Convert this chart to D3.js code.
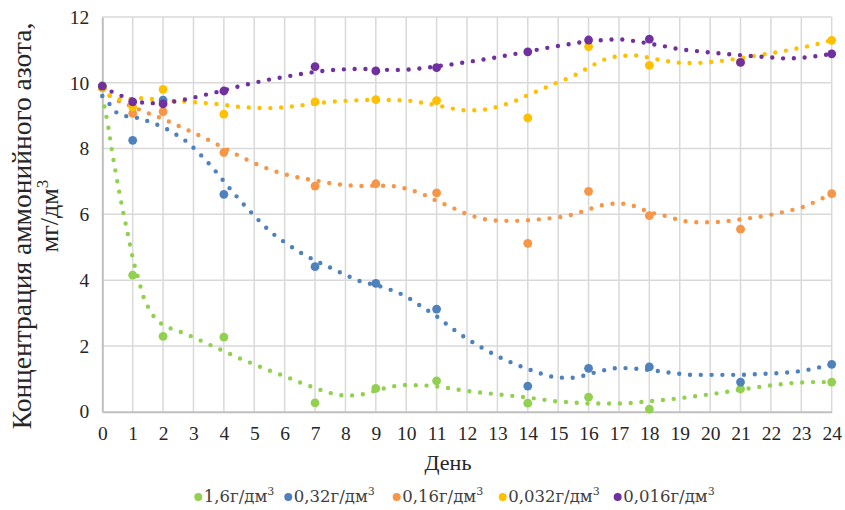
<!DOCTYPE html>
<html>
<head>
<meta charset="utf-8">
<script src="https://cdn.jsdelivr.net/npm/d3@7/dist/d3.min.js"></script>
<style>
  html, body { margin: 0; padding: 0; background: #ffffff; }
  svg { display: block; }
</style>
</head>
<body>
<svg id="chart" width="845" height="510"></svg>
<script>
// Sampling days
const days = [0, 1, 2, 4, 7, 9, 11, 14, 16, 18, 21, 24];

// Measured ammonium nitrogen, mg/dm3, one array per dose
const dose16   = [9.91, 4.15, 2.29, 2.27, 0.27, 0.71, 0.94, 0.26, 0.44, 0.08, 0.69, 0.90];
const dose032  = [9.85, 8.25, 9.47, 6.61, 4.41, 3.90, 3.12, 0.78, 1.32, 1.36, 0.90, 1.44];
const dose016  = [9.85, 9.07, 9.12, 7.88, 6.86, 6.93, 6.65, 5.12, 6.70, 5.96, 5.55, 6.63];
const dose0032 = [9.85, 9.27, 9.80, 9.05, 9.42, 9.49, 9.46, 8.93, 11.10, 10.53, 10.63, 11.29];
const dose0016 = [9.90, 9.42, 9.36, 9.75, 10.49, 10.36, 10.46, 10.94, 11.30, 11.33, 10.62, 10.88];

// Trend curves [day, value]
const trend16 = [[0,9.6],[0.2,8.63],[0.31,7.98],[0.43,7.33],[0.56,6.67],[0.7,6.01],[0.85,5.36],[1,4.68],[1.18,4.06],[1.38,3.43],[1.54,3.13],[1.73,2.85],[2,2.64],[2.34,2.5],[2.68,2.39],[3,2.26],[3.5,2.05],[4,1.84],[4.5,1.63],[5,1.44],[5.5,1.25],[6,1.08],[6.5,0.89],[7,0.72],[7.5,0.57],[8,0.49],[8.5,0.52],[9,0.64],[9.5,0.76],[10,0.81],[10.5,0.8],[11,0.77],[11.5,0.7],[12,0.63],[13,0.53],[14,0.43],[15,0.31],[15.5,0.28],[16,0.25],[17,0.25],[18,0.32],[19,0.41],[20,0.53],[21,0.67],[22,0.8],[23,0.89],[23.5,0.9],[24,0.9]];
const trend032 = [[0,9.6],[0.29,9.3],[0.53,9.05],[0.88,8.97],[1.22,8.92],[1.57,8.81],[1.9,8.69],[2.23,8.54],[2.52,8.37],[2.82,8.18],[3.08,7.95],[3.34,7.71],[3.58,7.47],[3.81,7.22],[4.04,6.96],[4.5,6.46],[5,5.96],[5.5,5.5],[6,5.15],[6.5,4.85],[7,4.6],[7.5,4.38],[8,4.16],[8.5,3.96],[9,3.85],[9.5,3.7],[10,3.5],[10.5,3.2],[11,2.9],[11.5,2.54],[12,2.22],[12.5,1.94],[13,1.69],[13.5,1.48],[14,1.3],[14.5,1.14],[15,1.04],[15.5,1.03],[16,1.14],[16.5,1.26],[17,1.33],[17.5,1.31],[18,1.27],[18.5,1.21],[19,1.15],[19.5,1.12],[20.5,1.12],[21,1.12],[21.5,1.14],[22,1.16],[22.5,1.19],[23,1.24],[23.5,1.33],[24,1.44]];
const trend016 = [[0,9.85],[0.25,9.6],[0.53,9.45],[1,9.27],[1.5,9.08],[2,8.9],[2.5,8.69],[3,8.48],[3.5,8.26],[4,8.02],[4.5,7.78],[5,7.56],[5.5,7.37],[6,7.22],[6.5,7.11],[7,7.03],[7.5,6.95],[8,6.89],[8.5,6.86],[9,6.87],[9.5,6.86],[10,6.78],[10.5,6.63],[11,6.41],[11.5,6.21],[12,6.01],[12.5,5.87],[13,5.81],[13.5,5.8],[14,5.82],[14.5,5.86],[15,5.91],[15.5,6.0],[16,6.15],[16.5,6.29],[17,6.33],[17.5,6.25],[18,6.07],[18.5,5.96],[19,5.83],[19.5,5.76],[20,5.76],[20.5,5.79],[21,5.85],[21.5,5.91],[22,5.99],[22.5,6.09],[23,6.21],[23.5,6.4],[24,6.63]];
const trend0032 = [[0,9.85],[0.25,9.6],[0.56,9.5],[1,9.5],[1.33,9.53],[1.68,9.5],[2,9.47],[3,9.41],[4,9.33],[4.5,9.27],[5,9.24],[5.5,9.23],[6,9.26],[6.5,9.31],[7,9.37],[7.5,9.42],[8,9.45],[9,9.48],[10,9.46],[10.5,9.4],[11,9.32],[11.5,9.22],[12,9.16],[12.5,9.18],[13,9.27],[13.5,9.42],[14,9.62],[14.5,9.82],[15,10.02],[15.5,10.21],[16,10.46],[16.5,10.7],[17,10.81],[17.5,10.83],[18,10.76],[18.5,10.67],[19,10.61],[19.5,10.6],[20,10.63],[20.5,10.68],[21,10.75],[21.5,10.82],[22,10.9],[22.5,10.98],[23,11.07],[23.5,11.17],[24,11.3]];
const trend0016 = [[0,9.9],[0.31,9.73],[0.64,9.6],[1,9.48],[1.5,9.38],[2,9.39],[2.5,9.45],[3,9.55],[3.5,9.66],[4,9.77],[4.5,9.89],[5,10.0],[5.5,10.1],[6,10.18],[6.5,10.26],[7,10.33],[7.5,10.38],[8,10.41],[8.5,10.42],[9,10.41],[9.5,10.39],[10,10.4],[10.5,10.44],[11,10.5],[11.5,10.56],[12,10.63],[13,10.78],[14,10.95],[15,11.12],[16,11.26],[16.5,11.3],[17,11.32],[17.5,11.27],[18,11.19],[18.5,11.11],[19,11.02],[19.5,10.97],[20,10.92],[21,10.84],[22,10.77],[22.5,10.74],[23,10.76],[23.5,10.81],[24,10.88]];

const seriesLabels = ["1,6", "0,32", "0,16", "0,032", "0,016"];
const seriesColors = ["#92d050", "#4f81bd", "#f79646", "#ffc000", "#7030a0"];
const xTicks = d3.range(0, 25, 1);
const yTicks = [0, 2, 4, 6, 8, 10, 12];

const series = [
  { label: seriesLabels[0], color: seriesColors[0], values: dose16,   trend: trend16 },
  { label: seriesLabels[1], color: seriesColors[1], values: dose032,  trend: trend032 },
  { label: seriesLabels[2], color: seriesColors[2], values: dose016,  trend: trend016 },
  { label: seriesLabels[3], color: seriesColors[3], values: dose0032, trend: trend0032 },
  { label: seriesLabels[4], color: seriesColors[4], values: dose0016, trend: trend0016 }
];

const svg = d3.select("#chart");
const plot = { left: 102.3, right: 831.7, top: 17, bottom: 411.7 };

const x = d3.scaleLinear().domain([0, 24]).range([plot.left, plot.right]);
const y = d3.scaleLinear().domain([0, 12]).range([plot.bottom, plot.top]);

const serif = "'Liberation Serif', 'Times New Roman', serif";

// Gridlines
const grid = svg.append("g");
grid.selectAll("line.v").data(xTicks.slice(1)).join("line")
  .attr("x1", d => x(d)).attr("x2", d => x(d))
  .attr("y1", plot.top).attr("y2", plot.bottom)
  .attr("stroke", "#d9d9d9").attr("stroke-width", 1.5);
grid.selectAll("line.h").data(yTicks.slice(1)).join("line")
  .attr("x1", plot.left).attr("x2", plot.right)
  .attr("y1", d => y(d)).attr("y2", d => y(d))
  .attr("stroke", "#d9d9d9").attr("stroke-width", 1.5);

// Axes
const xAxis = svg.append("g")
  .attr("transform", `translate(0,${plot.bottom})`)
  .call(d3.axisBottom(x).tickValues(xTicks).tickSize(0).tickPadding(14).tickFormat(d3.format("d")));
const yAxis = svg.append("g")
  .attr("transform", `translate(${plot.left},0)`)
  .call(d3.axisLeft(y).tickValues(yTicks).tickSize(0).tickPadding(13).tickFormat(d3.format("d")));

[xAxis, yAxis].forEach(a => {
  a.attr("font-family", null).attr("font-size", null);
  a.select(".domain").attr("stroke", "#bfbfbf").attr("stroke-width", 2);
  a.selectAll("text").style("font-family", serif).style("font-size", "19.5px").attr("fill", "#262626");
});

// Trend curves, dotted
const line = d3.line().x(d => x(d[0])).y(d => y(d[1])).curve(d3.curveMonotoneX);
svg.append("g").selectAll("path").data(series).join("path")
  .attr("d", s => line(s.trend))
  .attr("fill", "none")
  .attr("stroke", s => s.color)
  .attr("stroke-width", 4.4)
  .attr("stroke-linecap", "round")
  .attr("stroke-dasharray", "0 10.8");

// Measured points
series.forEach(s => {
  svg.append("g").selectAll("circle").data(s.values).join("circle")
    .attr("cx", (d, i) => x(days[i]))
    .attr("cy", d => y(d))
    .attr("r", 4.4)
    .attr("fill", s.color);
});

// Axis titles
svg.append("text")
  .attr("x", 448)
  .attr("y", 470)
  .attr("text-anchor", "middle")
  .style("font-family", serif).style("font-size", "22px").attr("fill", "#262626")
  .text("День");

svg.append("text")
  .attr("transform", "translate(31,226) rotate(-90)")
  .attr("text-anchor", "middle")
  .style("font-family", serif).style("font-size", "27.5px").attr("fill", "#262626")
  .text("Концентрация аммонийного азота,");
const unitLine = svg.append("text")
  .attr("transform", "translate(58,216) rotate(-90)")
  .attr("text-anchor", "middle")
  .style("font-family", serif).style("font-size", "26px").attr("fill", "#262626");
unitLine.append("tspan").text("мг/дм");
unitLine.append("tspan").attr("dy", -10).style("font-size", "17px").text("3");

// Legend
const legendX = [198.3, 288.3, 396.7, 502.7, 617.7];
const legend = svg.append("g");
series.forEach((s, i) => {
  const g = legend.append("g").attr("transform", `translate(${legendX[i]},497)`);
  g.append("circle").attr("r", 4).attr("fill", s.color);
  const t = g.append("text").attr("x", 5.5).attr("y", 5)
    .style("font-family", "'DejaVu Serif', serif").style("font-size", "16.5px").attr("fill", "#404040");
  t.append("tspan").text(s.label + "г/дм");
  t.append("tspan").attr("dy", -7).style("font-size", "11px").text("3");
});
</script>
</body>
</html>
